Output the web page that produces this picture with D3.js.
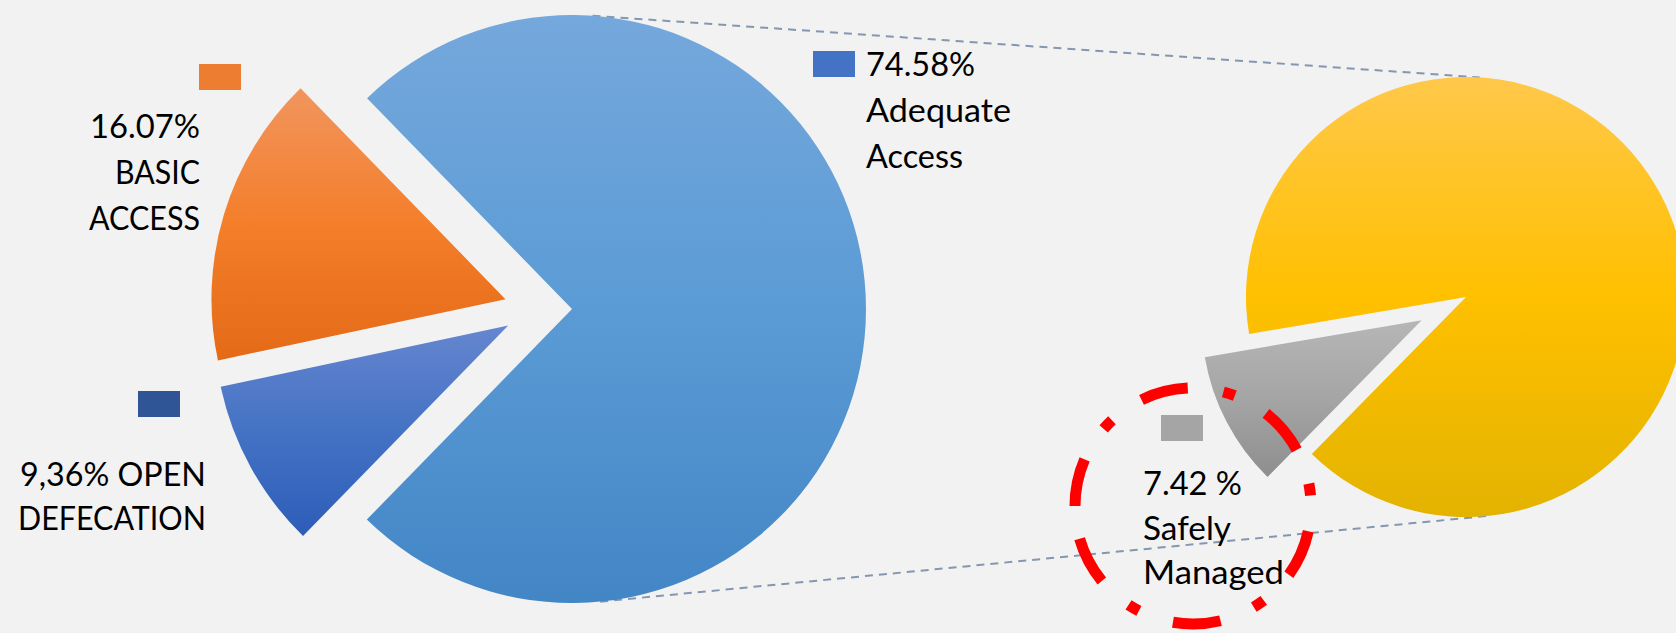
<!DOCTYPE html>
<html>
<head>
<meta charset="utf-8">
<script src="https://cdn.jsdelivr.net/npm/d3@7"></script>
<style>
  html, body { margin: 0; padding: 0; background: #F2F2F2; }
  svg { display: block; }
  text { font-family: Lato, "Open Sans", sans-serif; fill: #000; }
</style>
</head>
<body>
<svg id="chart" width="1676" height="633"></svg>
<script>
// Sanitation access shares (% of population)
const mainCategories = ["Adequate Access", "Open Defecation", "Basic Access"];
const mainValues = [74.58, 9.36, 16.07];
const mainLabelLines = [
  ["74.58%", "Adequate", "Access"],
  ["9,36% OPEN", "DEFECATION"],
  ["16.07%", "BASIC", "ACCESS"]
];

// Breakdown of the adequate-access share
const subCategories = ["Safely Managed", "Other adequate"];
const subValues = [7.42, 67.16];
const subLabelLines = [
  ["7.42 %", "Safely", "Managed"],
  null
];

// ---- styling ----
const deg = Math.PI / 180;
const mainColors = {
  legend: ["#4472C4", "#2F5597", "#ED7D31"],
  grad: [
    ["#75A8DC", "#5B9BD5", "#4386C6"],
    ["#6686CF", "#4472C4", "#2D5DB8"],
    ["#F1955E", "#F47E2A", "#E46A16"]
  ]
};
const subColors = {
  legend: ["#A5A5A5", "#FFC000"],
  grad: [
    ["#B6B6B6", "#A5A5A5", "#8E8E8E"],
    ["#FFC84A", "#FFC000", "#E3B300"]
  ]
};

const mainGeo = { cx: 538, cy: 309, r: 294, explode: 34, start: -44.2 };
const subGeo = { cx: 1466, cy: 297, r: 220, explode: [50, 0], start: 224.5 };

// label blocks: legend swatch + text lines (x, first baseline, line gap, anchor, line widths)
const mainLabelLayout = [
  { box: [813, 51], x: 866, y: 76, gap: 46, anchor: "start", widths: [109, 145, 97] },
  { box: [138, 391], x: 206, y: 486, gap: 43.5, anchor: "end", widths: [186, 188] },
  { box: [199, 64], x: 200, y: 138, gap: 46, anchor: "end", widths: [110, 85, 111] }
];
const subLabelLayout = [
  { box: [1161, 415], x: 1143, y: 495, gap: 44.5, anchor: "start", widths: [99, 88, 141] },
  null
];
const boxW = 42, boxH = 26, fontSize = 32;

const svg = d3.select("#chart");
const defs = svg.append("defs");

function addGradient(id, stops) {
  const g = defs.append("linearGradient")
    .attr("id", id).attr("x1", 0).attr("y1", 0).attr("x2", 0).attr("y2", 1);
  stops.forEach((c, i) => g.append("stop")
    .attr("offset", i / (stops.length - 1)).attr("stop-color", c));
}
mainColors.grad.forEach((s, i) => addGradient("gMain" + i, s));
subColors.grad.forEach((s, i) => addGradient("gSub" + i, s));

const mainPie = d3.pie().sort(null).value(d => d)
  .startAngle(mainGeo.start * deg).endAngle(mainGeo.start * deg + 2 * Math.PI);
const subPie = d3.pie().sort(null).value(d => d)
  .startAngle(subGeo.start * deg).endAngle(subGeo.start * deg + 2 * Math.PI);

const mainArcs = mainPie(mainValues);
const subArcs = subPie(subValues);

const arcMain = d3.arc().innerRadius(0).outerRadius(mainGeo.r);
const arcSub = d3.arc().innerRadius(0).outerRadius(subGeo.r);

function offset(a, dist) {
  const mid = (a.startAngle + a.endAngle) / 2;
  return [dist * Math.sin(mid), -dist * Math.cos(mid)];
}

// connector lines between the adequate-access slice and the breakdown pie
const adequateOff = offset(mainArcs[0], mainGeo.explode);
const bigC = [mainGeo.cx + adequateOff[0], mainGeo.cy + adequateOff[1]];
const subOffYellow = offset(subArcs[1], subGeo.explode[1]);
const smallC = [subGeo.cx + subOffYellow[0], subGeo.cy + subOffYellow[1]];
const onCircle = (c, r, a) => [c[0] + r * Math.sin(a * deg), c[1] - r * Math.cos(a * deg)];
const connectors = [
  [onCircle(bigC, mainGeo.r, 4), onCircle(smallC, subGeo.r, 3.6)],
  [onCircle(bigC, mainGeo.r, 174.5), onCircle(smallC, subGeo.r, 174.5)]
];
svg.append("g").selectAll("line").data(connectors).join("line")
  .attr("x1", d => d[0][0]).attr("y1", d => d[0][1])
  .attr("x2", d => d[1][0]).attr("y2", d => d[1][1])
  .attr("stroke", "#8497B0").attr("stroke-width", 2)
  .attr("stroke-dasharray", "8 6");

// main pie
svg.append("g").attr("transform", `translate(${mainGeo.cx},${mainGeo.cy})`)
  .selectAll("path").data(mainArcs).join("path")
  .attr("d", arcMain)
  .attr("transform", d => `translate(${offset(d, mainGeo.explode)})`)
  .attr("fill", (d, i) => `url(#gMain${i})`);

// breakdown pie
svg.append("g").attr("transform", `translate(${subGeo.cx},${subGeo.cy})`)
  .selectAll("path").data(subArcs).join("path")
  .attr("d", arcSub)
  .attr("transform", (d, i) => `translate(${offset(d, subGeo.explode[i])})`)
  .attr("fill", (d, i) => `url(#gSub${i})`);

// legend swatches and text labels
function drawLabels(lines, layout, colors) {
  lines.forEach((ls, i) => {
    const L = layout[i];
    if (!ls || !L) return;
    const g = svg.append("g");
    g.append("rect")
      .attr("x", L.box[0]).attr("y", L.box[1])
      .attr("width", boxW).attr("height", boxH)
      .attr("fill", colors.legend[i]);
    const t = g.append("text")
      .attr("font-size", fontSize)
      .attr("text-anchor", L.anchor);
    ls.forEach((line, j) => {
      t.append("tspan")
        .attr("x", L.x).attr("y", L.y + j * L.gap)
        .attr("textLength", L.widths[j])
        .attr("lengthAdjust", "spacingAndGlyphs")
        .text(line);
    });
  });
}
drawLabels(mainLabelLines, mainLabelLayout, mainColors);
drawLabels(subLabelLines, subLabelLayout, subColors);

// highlight ring around the safely-managed label
const ring = { cx: 1193, cy: 506, r: 118 };
const ringPath = d3.path();
ringPath.moveTo(ring.cx - ring.r, ring.cy);
ringPath.arc(ring.cx, ring.cy, ring.r, Math.PI, 3 * Math.PI, false);
svg.append("path")
  .attr("d", ringPath.toString())
  .attr("fill", "none")
  .attr("stroke", "#FF0000")
  .attr("stroke-width", 11)
  .attr("stroke-dasharray", "48 36 12 36");
</script>
</body>
</html>
